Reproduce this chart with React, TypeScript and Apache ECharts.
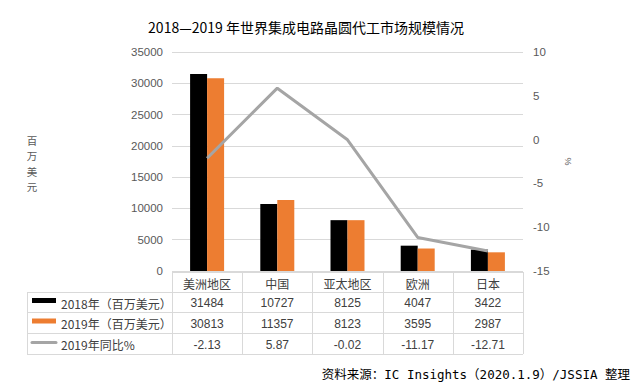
import React, { useEffect, useRef } from "react";
import * as echarts from "echarts";

const categories = ["美洲地区", "中国", "亚太地区", "欧洲", "日本"];
const values2018 = [31484, 10727, 8125, 4047, 3422];
const values2019 = [30813, 11357, 8123, 3595, 2987];
const growth2019 = [-2.13, 5.87, -0.02, -11.17, -12.71];
const seriesNames = ["2018年（百万美元）", "2019年（百万美元）", "2019年同比%"];
const leftTicks = { min: 0, max: 35000, interval: 5000 };
const rightTicks = { min: -15, max: 10, interval: 5 };
const leftAxisName = ["百", "万", "美", "元"];
const titleText = "2018—2019 年世界集成电路晶圆代工市场规模情况";
const sourceText = "资料来源：IC Insights（2020.1.9）/JSSIA 整理";

const COLORS = ["#000000", "#ed7d31", "#a5a5a5"];
const FONT = "'Liberation Sans', 'Noto Sans CJK SC', sans-serif";
const CJK = "'Noto Sans CJK SC', 'Liberation Sans', sans-serif";

const W = 632;
const H = 391;
const PLOT_L = 172;
const PLOT_R = 523;
const PLOT_T = 52;
const PLOT_B = 271;
const TABLE_L = 27;
const ROWS = [272, 292, 312, 333, 354];

function buildTable() {
  const els: any[] = [];
  const n = categories.length;
  const cw = (PLOT_R - PLOT_L) / n;
  const lineStyle = { stroke: "#d9d9d9", lineWidth: 1 };
  els.push({ type: "line", shape: { x1: PLOT_L, y1: ROWS[0] + 0.5, x2: PLOT_R, y2: ROWS[0] + 0.5 }, style: lineStyle, silent: true });
  for (let r = 1; r < ROWS.length; r++) {
    els.push({ type: "line", shape: { x1: TABLE_L, y1: ROWS[r] + 0.5, x2: PLOT_R, y2: ROWS[r] + 0.5 }, style: lineStyle, silent: true });
  }
  els.push({ type: "line", shape: { x1: TABLE_L + 0.5, y1: ROWS[1], x2: TABLE_L + 0.5, y2: ROWS[4] }, style: lineStyle, silent: true });
  for (let c = 0; c <= n; c++) {
    const x = Math.round(PLOT_L + c * cw) + 0.5;
    els.push({ type: "line", shape: { x1: x, y1: ROWS[0], x2: x, y2: ROWS[4] }, style: lineStyle, silent: true });
  }
  categories.forEach((cat, i) => {
    els.push({
      type: "text",
      x: PLOT_L + (i + 0.5) * cw,
      y: (ROWS[0] + ROWS[1]) / 2 + 1,
      style: { text: cat, fill: "#404040", font: `12px ${CJK}`, textAlign: "center", textVerticalAlign: "middle" },
      silent: true,
    });
  });
  const rowsData = [values2018, values2019, growth2019.map((v) => v.toFixed(2))];
  rowsData.forEach((row, r) => {
    const yc = (ROWS[r + 1] + ROWS[r + 2]) / 2 + 1;
    row.forEach((v: any, i: number) => {
      els.push({
        type: "text",
        x: PLOT_L + (i + 0.5) * cw,
        y: yc,
        style: { text: String(v), fill: "#404040", font: `12px ${FONT}`, textAlign: "center", textVerticalAlign: "middle" },
        silent: true,
      });
    });
    if (r < 2) {
      els.push({ type: "rect", shape: { x: 32, y: yc - 5, width: 24, height: 5 }, style: { fill: COLORS[r] }, silent: true });
    } else {
      els.push({ type: "line", shape: { x1: 32, y1: yc - 2, x2: 56, y2: yc - 2 }, style: { stroke: COLORS[2], lineWidth: 3, lineCap: "round" }, silent: true });
    }
    els.push({
      type: "text",
      x: 61,
      y: yc,
      style: { text: seriesNames[r], fill: "#404040", font: `12px ${CJK}`, textAlign: "left", textVerticalAlign: "middle" },
      silent: true,
    });
  });
  return els;
}

export default function App() {
  const ref = useRef<HTMLDivElement>(null);
  useEffect(() => {
    if (!ref.current) return;
    const chart = echarts.init(ref.current, null, { renderer: "svg" });
    chart.setOption({
      animation: false,
      backgroundColor: "#ffffff",
      textStyle: { fontFamily: FONT },
      title: {
        text: titleText,
        left: 301,
        top: 15,
        textAlign: "center",
        textStyle: { fontSize: 14, fontWeight: "normal", color: "#000000", fontFamily: CJK },
      },
      grid: { left: PLOT_L, right: W - PLOT_R, top: PLOT_T, bottom: H - PLOT_B, containLabel: false },
      xAxis: {
        type: "category",
        data: categories,
        axisLabel: { show: false },
        axisTick: { show: false },
        axisLine: { show: false },
      },
      yAxis: [
        {
          type: "value",
          min: leftTicks.min,
          max: leftTicks.max,
          interval: leftTicks.interval,
          axisLabel: { color: "#595959", fontSize: 11.5, margin: 9, formatter: (v: number) => String(v) },
          axisLine: { show: false },
          axisTick: { show: false },
          splitLine: { lineStyle: { color: "#d9d9d9", width: 1 } },
        },
        {
          type: "value",
          min: rightTicks.min,
          max: rightTicks.max,
          interval: rightTicks.interval,
          position: "right",
          axisLabel: { color: "#595959", fontSize: 11.5, margin: 10, formatter: (v: number) => String(v) },
          axisLine: { show: false },
          axisTick: { show: false },
          splitLine: { show: false },
          name: "%",
          nameLocation: "middle",
          nameRotate: -90,
          nameGap: 40,
          nameTextStyle: { color: "#595959", fontSize: 9 },
        },
      ],
      series: [
        {
          name: seriesNames[0],
          type: "bar",
          data: values2018,
          barWidth: 17,
          barGap: "0%",
          itemStyle: { color: COLORS[0] },
        },
        {
          name: seriesNames[1],
          type: "bar",
          data: values2019,
          barWidth: 17,
          barGap: "0%",
          itemStyle: { color: COLORS[1] },
        },
        {
          name: seriesNames[2],
          type: "line",
          yAxisIndex: 1,
          data: growth2019,
          showSymbol: false,
          symbol: "none",
          lineStyle: { color: COLORS[2], width: 3 },
          z: 5,
        },
      ],
      graphic: [
        ...leftAxisName.map((ch, i) => ({
          type: "text",
          x: 32,
          y: 140 + i * 15.5,
          style: { text: ch, fill: "#595959", font: `10.5px ${CJK}`, textAlign: "center", textVerticalAlign: "middle" },
          silent: true,
        })),
        ...buildTable(),
        {
          type: "text",
          x: 630,
          y: 374,
          style: {
            text: sourceText,
            fill: "#000000",
            font: `12.5px 'DejaVu Sans Mono', 'Noto Sans CJK SC', monospace`,
            textAlign: "right",
            textVerticalAlign: "middle",
          },
          silent: true,
        },
      ],
    });
    return () => chart.dispose();
  }, []);
  return (
    <div
      ref={ref}
      style={{ position: "fixed", left: 0, top: 0, width: W, height: H }}
    />
  );
}
